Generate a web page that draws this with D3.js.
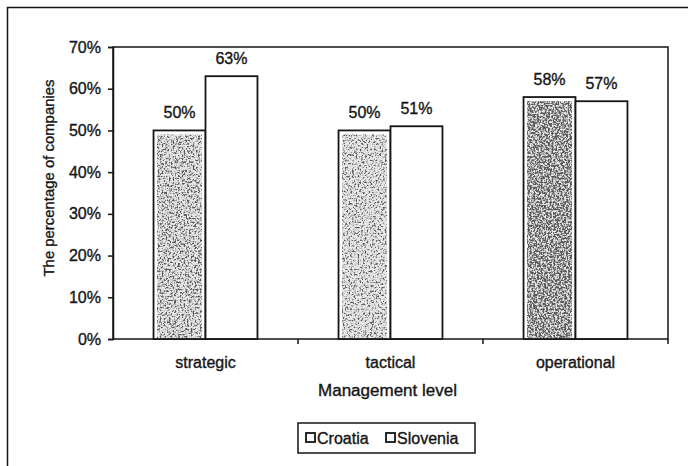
<!DOCTYPE html>
<html>
<head>
<meta charset="utf-8">
<script src="https://cdn.jsdelivr.net/npm/d3@7"></script>
<style>
  html, body { margin: 0; padding: 0; background: #fff; }
  svg { display: block; font-family: "Liberation Sans", Arial, sans-serif; }
  svg text { stroke: #151515; stroke-width: 0.35px; }
</style>
</head>
<body>
<svg id="chart" width="688" height="466"></svg>
<script>
// Share of companies by management level
const categories = ["strategic", "tactical", "operational"];
const seriesNames = ["Croatia", "Slovenia"];
const croatia = [50, 50, 58];
const slovenia = [63, 51, 57];
const yTicks = [0, 10, 20, 30, 40, 50, 60, 70];

const svg = d3.select("#chart");
const ink = "#151515";
const font = "Liberation Sans, Arial, sans-serif";

const plot = { left: 113, right: 668, top: 47, bottom: 339 };

// stippled texture for the Croatia bars
const defs = svg.append("defs");
function speckle(id, offset, seed) {
  const f = defs.append("filter").attr("id", id)
    .attr("x", 0).attr("y", 0).attr("width", 1).attr("height", 1);
  f.append("feTurbulence").attr("type", "fractalNoise")
    .attr("baseFrequency", 0.55).attr("numOctaves", 3).attr("seed", seed).attr("result", "n");
  f.append("feColorMatrix").attr("in", "n").attr("type", "matrix")
    .attr("values", `0 0 0 0 0.1  0 0 0 0 0.1  0 0 0 0 0.1  -4.6 0 0 0 ${offset}`)
    .attr("result", "dots");
  f.append("feComposite").attr("in", "dots").attr("in2", "SourceGraphic")
    .attr("operator", "in").attr("result", "clipped");
  const m = f.append("feMerge");
  m.append("feMergeNode").attr("in", "SourceGraphic");
  m.append("feMergeNode").attr("in", "clipped");
}
speckle("speckle0", 2.55, 4);
speckle("speckle1", 2.4, 9);
speckle("speckle2", 2.95, 13);

// outer frame (runs off the right and bottom edges)
svg.append("rect").attr("x", 7.5).attr("y", 7.5).attr("width", 700).attr("height", 480)
  .attr("fill", "none").attr("stroke", ink).attr("stroke-width", 1.5);

const x0 = d3.scaleBand().domain(categories).range([plot.left, plot.right]).paddingInner(0).paddingOuter(0);
const x1 = d3.scaleBand().domain(seriesNames).range([0, x0.bandwidth()]).paddingInner(0).paddingOuter(0.78);
const y = d3.scaleLinear().domain([0, 70]).range([plot.bottom, plot.top]);

// plot area frame
svg.append("rect").attr("x", plot.left).attr("y", plot.top)
  .attr("width", plot.right - plot.left).attr("height", plot.bottom - plot.top)
  .attr("fill", "none").attr("stroke", ink).attr("stroke-width", 1.5);

// y axis
const yAxis = d3.axisLeft(y).tickValues(yTicks).tickFormat(d => d + "%").tickSize(5).tickPadding(7);
const gy = svg.append("g").attr("transform", `translate(${plot.left},0)`).call(yAxis);
gy.select(".domain").attr("stroke", ink).attr("stroke-width", 1.5);
gy.selectAll(".tick line").attr("stroke", ink).attr("stroke-width", 1.5);
gy.selectAll(".tick text").attr("fill", ink).attr("font-size", 16).attr("font-family", font);

// x axis: ticks at category boundaries
const xAxis = d3.axisBottom(x0).tickSize(0).tickPadding(18);
const gx = svg.append("g").attr("transform", `translate(0,${plot.bottom})`).call(xAxis);
gx.select(".domain").remove();
gx.selectAll(".tick text").attr("fill", ink).attr("font-size", 16).attr("font-family", font);
const bounds = categories.map(c => x0(c) + x0.bandwidth());
svg.append("g").selectAll("line").data(bounds).join("line")
  .attr("x1", d => d).attr("x2", d => d)
  .attr("y1", plot.bottom).attr("y2", plot.bottom + 5)
  .attr("stroke", ink).attr("stroke-width", 1.5);

// bars
const groups = svg.append("g").selectAll("g").data(categories).join("g")
  .attr("transform", c => `translate(${x0(c)},0)`);

groups.each(function (c, i) {
  const g = d3.select(this);
  const vals = [croatia[i], slovenia[i]];
  vals.forEach((v, s) => {
    const bx = x1(seriesNames[s]);
    const bw = x1.bandwidth();
    g.append("rect").attr("x", bx).attr("y", y(v))
      .attr("width", bw).attr("height", y(0) - y(v))
      .attr("fill", "#fff").attr("stroke", ink).attr("stroke-width", 1.8);
    if (s === 0) {
      g.append("rect").attr("x", bx + 3.5).attr("y", y(v) + 4)
        .attr("width", bw - 7).attr("height", y(0) - y(v) - 5)
        .attr("fill", "#e8e8e8").attr("filter", `url(#speckle${i})`);
    }
    g.append("text").attr("x", bx + bw / 2).attr("y", y(v) - 12)
      .attr("text-anchor", "middle").attr("font-size", 16).attr("fill", ink)
      .text(v + "%");
  });
});

// axis titles
svg.append("text").attr("x", (plot.left + plot.right) / 2 - 3).attr("y", 396)
  .attr("text-anchor", "middle").attr("font-size", 16).attr("fill", ink)
  .attr("textLength", 139).attr("lengthAdjust", "spacingAndGlyphs")
  .text("Management level");
svg.append("text")
  .attr("transform", `translate(54,178) rotate(-90)`)
  .attr("text-anchor", "middle").attr("font-size", 15).attr("fill", ink)
  .attr("textLength", 197).attr("lengthAdjust", "spacingAndGlyphs")
  .text("The percentage of companies");

// legend
const legend = svg.append("g");
legend.append("rect").attr("x", 298).attr("y", 423).attr("width", 177).attr("height", 30)
  .attr("fill", "#fff").attr("stroke", ink).attr("stroke-width", 1.5);
const legendX = [306, 386];
seriesNames.forEach((name, i) => {
  legend.append("rect").attr("x", legendX[i]).attr("y", 433).attr("width", 9).attr("height", 9)
    .attr("fill", "#fff").attr("stroke", ink).attr("stroke-width", 1.8);
  legend.append("text").attr("x", legendX[i] + 11).attr("y", 443.5)
    .attr("font-size", 16).attr("fill", ink).text(name);
});
</script>
</body>
</html>
